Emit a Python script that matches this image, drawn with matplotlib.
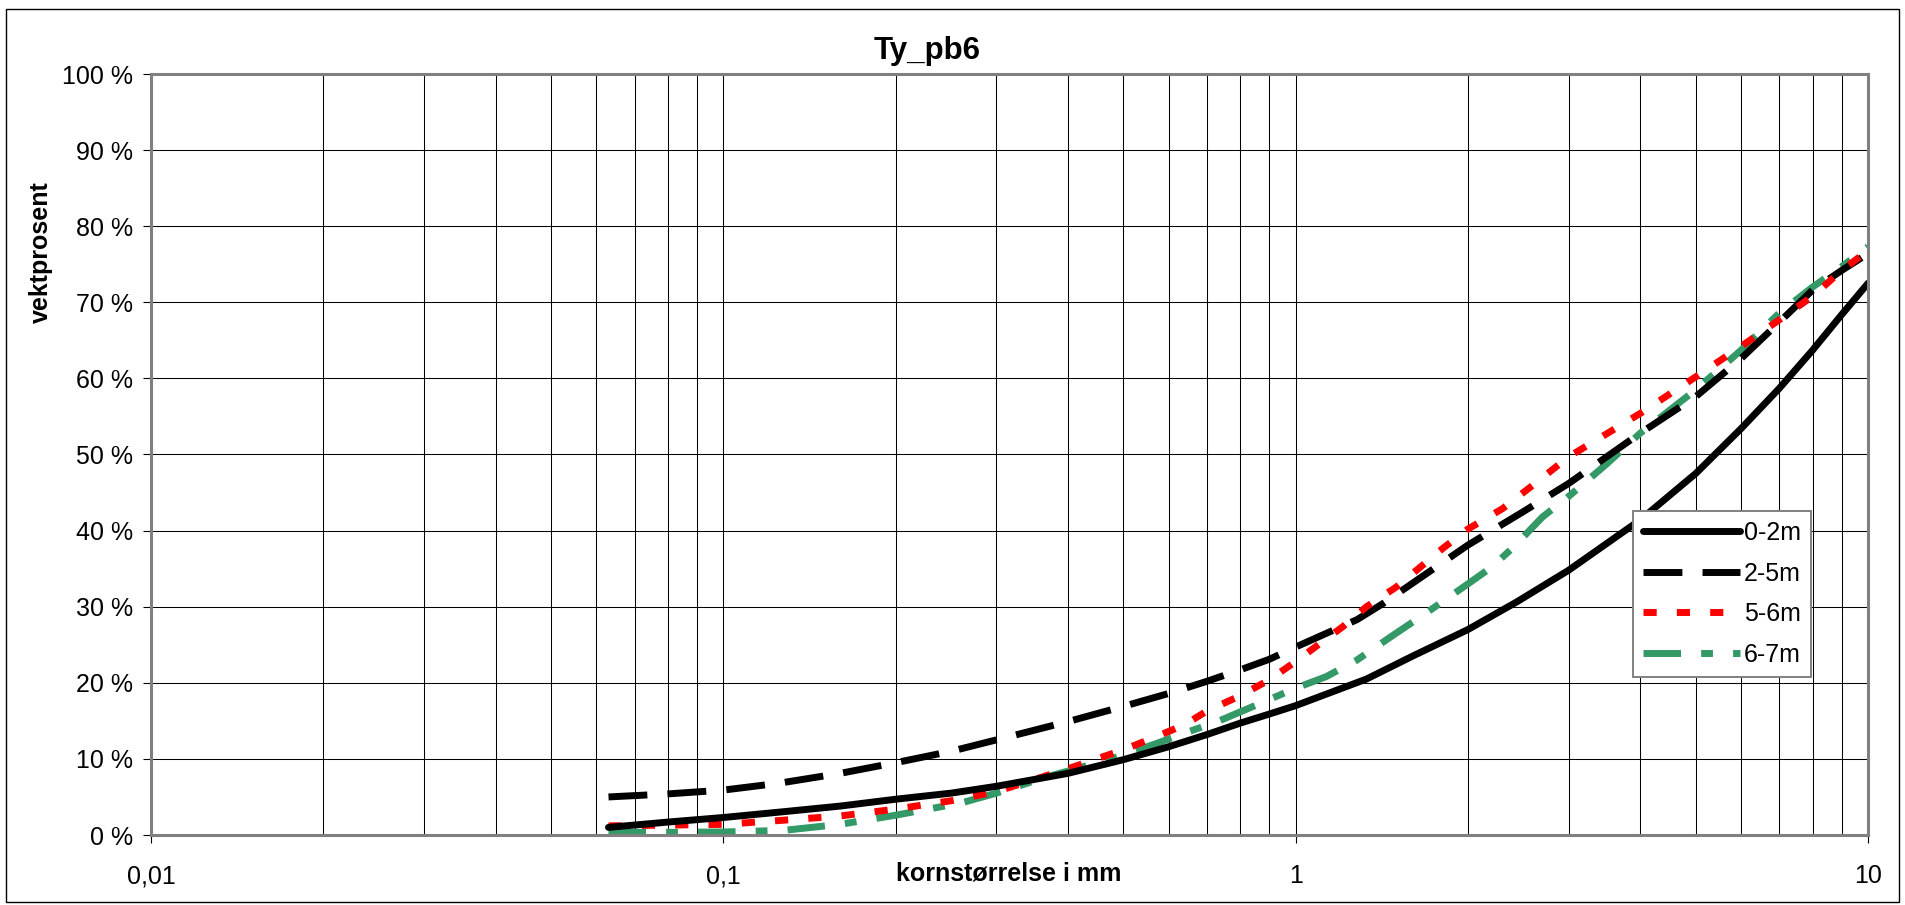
import matplotlib
matplotlib.use("Agg")
import matplotlib.pyplot as plt
from matplotlib.patches import Rectangle
from matplotlib.ticker import FixedLocator, NullFormatter

plt.rcParams['font.family'] = ['Liberation Sans', 'DejaVu Sans']

# ---------------- data ----------------
title = "Ty_pb6"
x_label = "kornstørrelse i mm"
y_label = "vektprosent"
series_names = ["0-2m", "2-5m", "5-6m", "6-7m"]

x_02 = [0.063, 0.08, 0.1, 0.125, 0.16, 0.2, 0.25, 0.3, 0.4, 0.5, 0.6, 0.7, 0.8, 0.9, 1.0,
        1.33, 1.6, 2.0, 2.43, 3, 4, 5, 6, 7, 8, 9, 10]
y_02 = [1.0, 1.7, 2.3, 3.0, 3.8, 4.7, 5.5, 6.4, 8.1, 9.9, 11.6, 13.2, 14.7, 15.9, 17.0,
        20.5, 23.5, 27.0, 30.6, 34.8, 41.4, 47.5, 53.4, 58.7, 63.7, 68.4, 72.5]

x_25 = [0.063, 0.08, 0.1, 0.125, 0.16, 0.2, 0.25, 0.3, 0.4, 0.5, 0.6, 0.7, 0.8, 0.9, 1.0,
        1.28, 1.42, 1.63, 2.0, 2.5, 3, 4, 5, 6, 7, 8, 9, 10]
y_25 = [5.0, 5.4, 5.9, 6.8, 8.1, 9.5, 11.0, 12.5, 14.9, 16.9, 18.6, 20.2, 21.7, 23.1, 24.7,
        28.3, 30.4, 33.5, 38.1, 42.5, 46.2, 52.8, 57.6, 62.6, 67.4, 71.6, 74.2, 76.4]

x_56 = [0.063, 0.08, 0.1, 0.125, 0.16, 0.2, 0.25, 0.3, 0.4, 0.5, 0.57, 0.64, 0.7, 0.8, 0.9,
        1.0, 1.21, 1.33, 1.5, 1.81, 2.0, 2.3, 2.6, 3, 4, 5, 6, 7, 8, 9, 10]
y_56 = [1.2, 1.3, 1.4, 1.9, 2.5, 3.4, 4.5, 5.7, 8.7, 11.2, 12.9, 14.5, 16.3, 18.3, 20.4,
        22.8, 27.4, 30.0, 32.6, 37.7, 40.2, 42.9, 46.0, 49.7, 55.4, 60.2, 64.2, 67.7, 70.8, 74.2, 76.8]

x_67 = [0.063, 0.08, 0.1, 0.114, 0.129, 0.16, 0.2, 0.26, 0.3, 0.37, 0.4, 0.5, 0.57, 0.64, 0.73,
        0.88, 1.0, 1.13, 1.28, 1.47, 1.7, 2.0, 2.2, 2.4, 2.7, 3, 3.5, 4, 5, 6, 7, 8, 9, 10]
y_67 = [0.35, 0.35, 0.4, 0.5, 0.65, 1.4, 2.6, 4.2, 5.5, 7.7, 8.4, 10.5, 12.0, 13.4, 14.9,
        17.5, 19.3, 20.8, 23.0, 26.1, 29.3, 33.0, 35.2, 37.8, 41.8, 44.5, 48.8, 52.8, 58.5, 63.7, 68.6, 72.0, 74.7, 77.3]

x_ticks = [0.01, 0.1, 1, 10]
x_tick_labels = ["0,01", "0,1", "1", "10"]
y_ticks = [0, 10, 20, 30, 40, 50, 60, 70, 80, 90, 100]

# ---------------- figure ----------------
W, H = 1906, 905
fig = plt.figure(figsize=(W / 100, H / 100), dpi=100)
ax = fig.add_axes([151 / W, 1 - 835 / H, (1868 - 151) / W, (835 - 74) / H])

ax.set_xscale('log')
ax.set_xlim(0.01, 10)
ax.set_ylim(0, 100)

lw = 5.0  # points (~7 px)
ax.plot(x_02, y_02, color='black', lw=lw, solid_capstyle='round', solid_joinstyle='round',
        label=series_names[0], zorder=5)
ax.plot(x_25, y_25, color='black', lw=lw, linestyle=(0, (5.6, 2.9)), dash_capstyle='butt',
        label=series_names[1], zorder=4)
ax.plot(x_56, y_56, color='#FF0000', lw=lw, linestyle=(0, (1.9, 2.9)), dash_capstyle='butt',
        label=series_names[2], zorder=4)
ax.plot(x_67, y_67, color='#339966', lw=lw, linestyle=(0, (5.4, 2.9, 1.7, 2.9)), dash_capstyle='butt',
        label=series_names[3], zorder=3)

# grid
ax.xaxis.set_major_locator(FixedLocator(x_ticks))
ax.set_xticklabels(x_tick_labels)
minor = [m * 10.0 ** e for e in (-2, -1, 0) for m in range(2, 10)]
ax.xaxis.set_minor_locator(FixedLocator(minor))
ax.xaxis.set_minor_formatter(NullFormatter())
ax.set_yticks(y_ticks)
ax.set_yticklabels([f"{v} %" for v in y_ticks])
ax.grid(True, which='both', axis='x', color='black', lw=0.75)
ax.grid(True, which='major', axis='y', color='black', lw=0.75)
ax.set_axisbelow(True)

ax.tick_params(axis='x', which='major', direction='out', length=6, width=0.8, pad=15,
               labelsize=18, color='black')
ax.tick_params(axis='x', which='minor', length=0)
ax.tick_params(axis='y', direction='out', length=6, width=0.8, pad=7, labelsize=18, color='black')

for s in ax.spines.values():
    s.set_color('#808080')
    s.set_linewidth(2.2)
    s.set_zorder(6)

# legend
leg = ax.legend(loc='upper left', bbox_to_anchor=(1633 / W, 1 - 511 / H),
                bbox_transform=fig.transFigure, borderaxespad=0, fontsize=18,
                handlelength=3.9, handletextpad=0.15, borderpad=0.4, labelspacing=0.66,
                fancybox=False, framealpha=1, edgecolor='#808080', facecolor='white')
leg.get_frame().set_linewidth(1.4)
leg.set_zorder(10)

# texts
fig.text(927 / W, 1 - 59 / H, title, ha='center', va='baseline', fontsize=22.5, fontweight='bold')
fig.text(1009 / W, 1 - 880 / H, x_label, ha='center', va='baseline', fontsize=18, fontweight='bold')
fig.text(41 / W, 1 - 252 / H, y_label, ha='center', va='center', rotation=90,
         fontsize=18, fontweight='bold')

# outer chart frame
fig.patches.append(Rectangle((6 / W, 1 - 902 / H), (1899 - 6) / W, (902 - 9) / H,
                             transform=fig.transFigure, fill=False, edgecolor='black', lw=1.0))

fig.savefig("out.png", dpi=100)
